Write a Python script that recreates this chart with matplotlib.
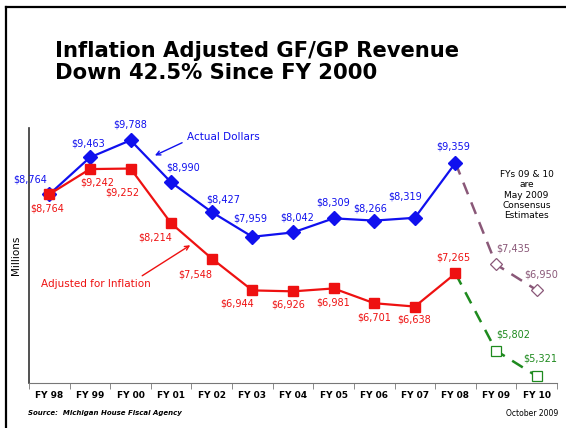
import matplotlib.pyplot as plt
import numpy as np
from matplotlib.lines import Line2D

# Дані (мільйони доларів)
years = ['FY 98', 'FY 99', 'FY 00', 'FY 01', 'FY 02', 'FY 03', 'FY 04',
         'FY 05', 'FY 06', 'FY 07', 'FY 08', 'FY 09', 'FY 10']
actual = [8764, 9463, 9788, 8990, 8427, 7959, 8042, 8309, 8266, 8319, 9359]
actual_est = [9359, 7435, 6950]
adjusted = [8764, 9242, 9252, 8214, 7548, 6944, 6926, 6981, 6701, 6638, 7265]
adjusted_est = [7265, 5802, 5321]

# зсуви підписів у пікселях (dx, dy)
actual_off = [(-19, 15), (-2, 14), (0, 16), (12, 15), (11, 13), (-2, 18), (4, 15),
              (0, 16), (-4, 12), (-10, 21), (-2, 16), (17, 16), (4, 16)]
adjusted_off = [(-2, -14), (7, -13), (-8, -24), (-16, -14), (-17, -16), (-15, -13),
                (-5, -13), (0, -14), (0, -14), (-1, -13), (-2, 16), (17, 16), (4, 18)]

blue = '#1010ee'
red = '#ee1111'
purple = '#8a5878'
green = '#1e8a1e'

fig = plt.figure(figsize=(5.66, 4.28), dpi=100)
ax = fig.add_axes([29 / 566, 1 - 383 / 428, 528 / 566, 255 / 428])

x = np.arange(len(years))
n = len(actual)

# Фактичні долари
ax.plot(x[:n], actual, color=blue, lw=1.6, marker='D', ms=7, mfc=blue, mec=blue, zorder=3)
ax.plot(x[n - 1:], actual_est, color=purple, lw=1.8, ls=(0, (5, 3.5)), zorder=2)
ax.plot(x[n:], actual_est[1:], ls='none', marker='D', ms=6.5, mfc='white', mec=purple, mew=0.9, zorder=3)

# З поправкою на інфляцію
ax.plot(x[:n], adjusted, color=red, lw=1.6, marker='s', ms=7, mfc=red, mec=red, zorder=3)
ax.plot(x[n - 1:], adjusted_est, color=green, lw=1.8, ls=(0, (5, 3.5)), zorder=2)
ax.plot(x[n:], adjusted_est[1:], ls='none', marker='s', ms=6.5, mfc='white', mec=green, mew=0.9, zorder=3)

all_actual = actual + actual_est[1:]
all_adjusted = adjusted + adjusted_est[1:]
for i, v in enumerate(all_actual):
    c = blue if i < n else purple
    ax.annotate(f'${v:,}', (x[i], v), xytext=actual_off[i], textcoords='offset pixels',
                ha='center', va='center', fontsize=7, color=c)
for i, v in enumerate(all_adjusted):
    c = red if i < n else green
    ax.annotate(f'${v:,}', (x[i], v), xytext=adjusted_off[i], textcoords='offset pixels',
                ha='center', va='center', fontsize=7, color=c)

# Стрілки з підписами
ax.annotate('Actual Dollars', xy=(2.6, 9500), xytext=(3.4, 9845), fontsize=7.5,
            color=blue, va='center', ha='left',
            arrowprops=dict(arrowstyle='->', color=blue, lw=1, shrinkA=2, shrinkB=0,
                            relpos=(0.0, 0.2)))
ax.annotate('Adjusted for Inflation', xy=(3.47, 7800), xytext=(-0.2, 7060), fontsize=7.5,
            color=red, va='center', ha='left',
            arrowprops=dict(arrowstyle='->', color=red, lw=1, shrinkA=1, shrinkB=0,
                            relpos=(0.87, 1.0)))

ax.text(11.75, 8750, 'FYs 09 & 10\nare\nMay 2009\nConsensus\nEstimates', ha='center', va='center',
        fontsize=6.5, color='black', linespacing=1.15)

ax.set_xlim(-0.5, 12.5)
ax.set_ylim(5190, 10020)
ax.set_xticks(x)
ax.set_xticklabels(years, fontsize=6.5, fontweight='bold')
ax.set_xticks(np.arange(-0.5, 12.6, 1), minor=True)
ax.tick_params(axis='x', which='major', length=0, pad=6)
ax.tick_params(axis='x', which='minor', length=4, color='#777777', direction='out')
ax.set_yticks([])
ax.set_ylabel('Millions', fontsize=7.5, labelpad=6)
for s in ['top', 'right']:
    ax.spines[s].set_visible(False)
ax.spines['bottom'].set_color('#777777')
ax.spines['left'].set_color('#333333')
ax.spines['left'].set_linewidth(1.2)

fig.text(55 / 566, 1 - 41 / 428, 'Inflation Adjusted GF/GP Revenue\nDown 42.5% Since FY 2000',
         ha='left', va='top', fontsize=15.2, fontweight='bold', linespacing=1.12)
fig.text(28 / 566, 1 - 413 / 428, 'Source:  Michigan House Fiscal Agency', fontsize=5,
         fontweight='bold', style='italic', va='center', ha='left')
fig.text(558 / 566, 1 - 413 / 428, 'October 2009', fontsize=5.5, va='center', ha='right')

# рамка слайда
fig.add_artist(Line2D([6 / 566, 6 / 566], [0, 1 - 7 / 428], color='black', lw=1.6,
                      transform=fig.transFigure))
fig.add_artist(Line2D([6 / 566, 1], [1 - 7 / 428, 1 - 7 / 428], color='black', lw=1.6,
                      transform=fig.transFigure))

fig.savefig('out.png', dpi=100)
